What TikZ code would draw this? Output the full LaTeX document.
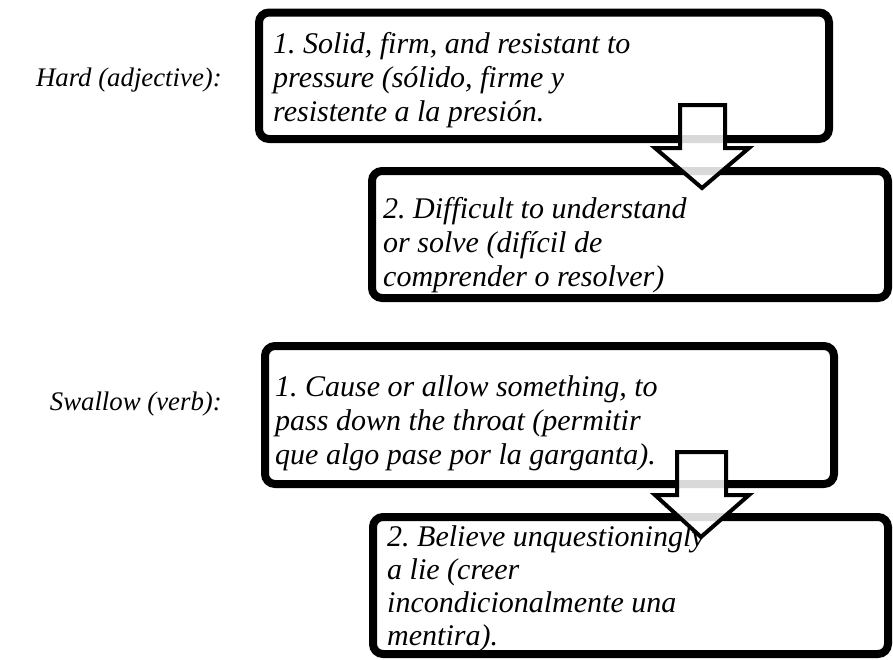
\documentclass[tikz,border=0pt]{standalone}
\usepackage{fontspec}
\setmainfont{Liberation Serif}
\usetikzlibrary{shadows}
\frenchspacing
\begin{document}
\begin{tikzpicture}[x=1pt,y=-1pt,
  box/.style={draw=black, line width=8pt, rounded corners=10pt, fill=white, outer sep=0pt, inner sep=0pt, anchor=north west,
    drop shadow={shadow xshift=2pt, shadow yshift=-2pt, opacity=0.2}},
  txt/.style={font=\fontsize{30}{34}\selectfont\itshape, align=left, anchor=north west, inner sep=0pt},
  lbl/.style={font=\fontsize{26.8}{32}\selectfont\itshape, anchor=base east, inner sep=0pt},
  blockarrow/.style={draw=black, line width=4pt, fill=white, fill opacity=0.85, line join=miter}]
\useasboundingbox (0,0) rectangle (893,659);
% boxes
\node[box, minimum width=570pt, minimum height=126.5pt] (b1) at (259,12.5) {};
\node[box, minimum width=516pt, minimum height=127pt] (b2) at (372,171) {};
\node[box, minimum width=569pt, minimum height=138pt] (b3) at (265,346) {};
\node[box, minimum width=515pt, minimum height=137pt] (b4) at (373,517) {};
% texts
\node[txt] (t1) at (273,32) {1. Solid, firm, and resistant to\\pressure (sólido, firme y\\resistente a la presión.};
\node[txt] (t2) at (383,197) {2. Difficult to understand\\or solve (difícil de\\comprender o resolver)};
\node[txt] (t3) at (275,375) {1. Cause or allow something, to\\pass down the throat (permitir\\que algo pase por la garganta).};
\node[txt, font=\fontsize{30}{33}\selectfont\itshape] (t4) at (387,525) {2. Believe unquestioningly\\a lie (creer\\incondicionalmente una\\mentira).};
% labels
\node[lbl] (l1) at (222,86) {Hard (adjective):};
\node[lbl] (l2) at (222,410) {Swallow (verb):};
% block arrows
\draw[blockarrow] (680,105) -- (725,105) -- (725,148) -- (749,148) -- (702,188) -- (655,148) -- (680,148) -- cycle;
\draw[blockarrow] (677,452) -- (726,452) -- (726,495) -- (749,495) -- (701,537) -- (655,495) -- (677,495) -- cycle;
\end{tikzpicture}
\end{document}
